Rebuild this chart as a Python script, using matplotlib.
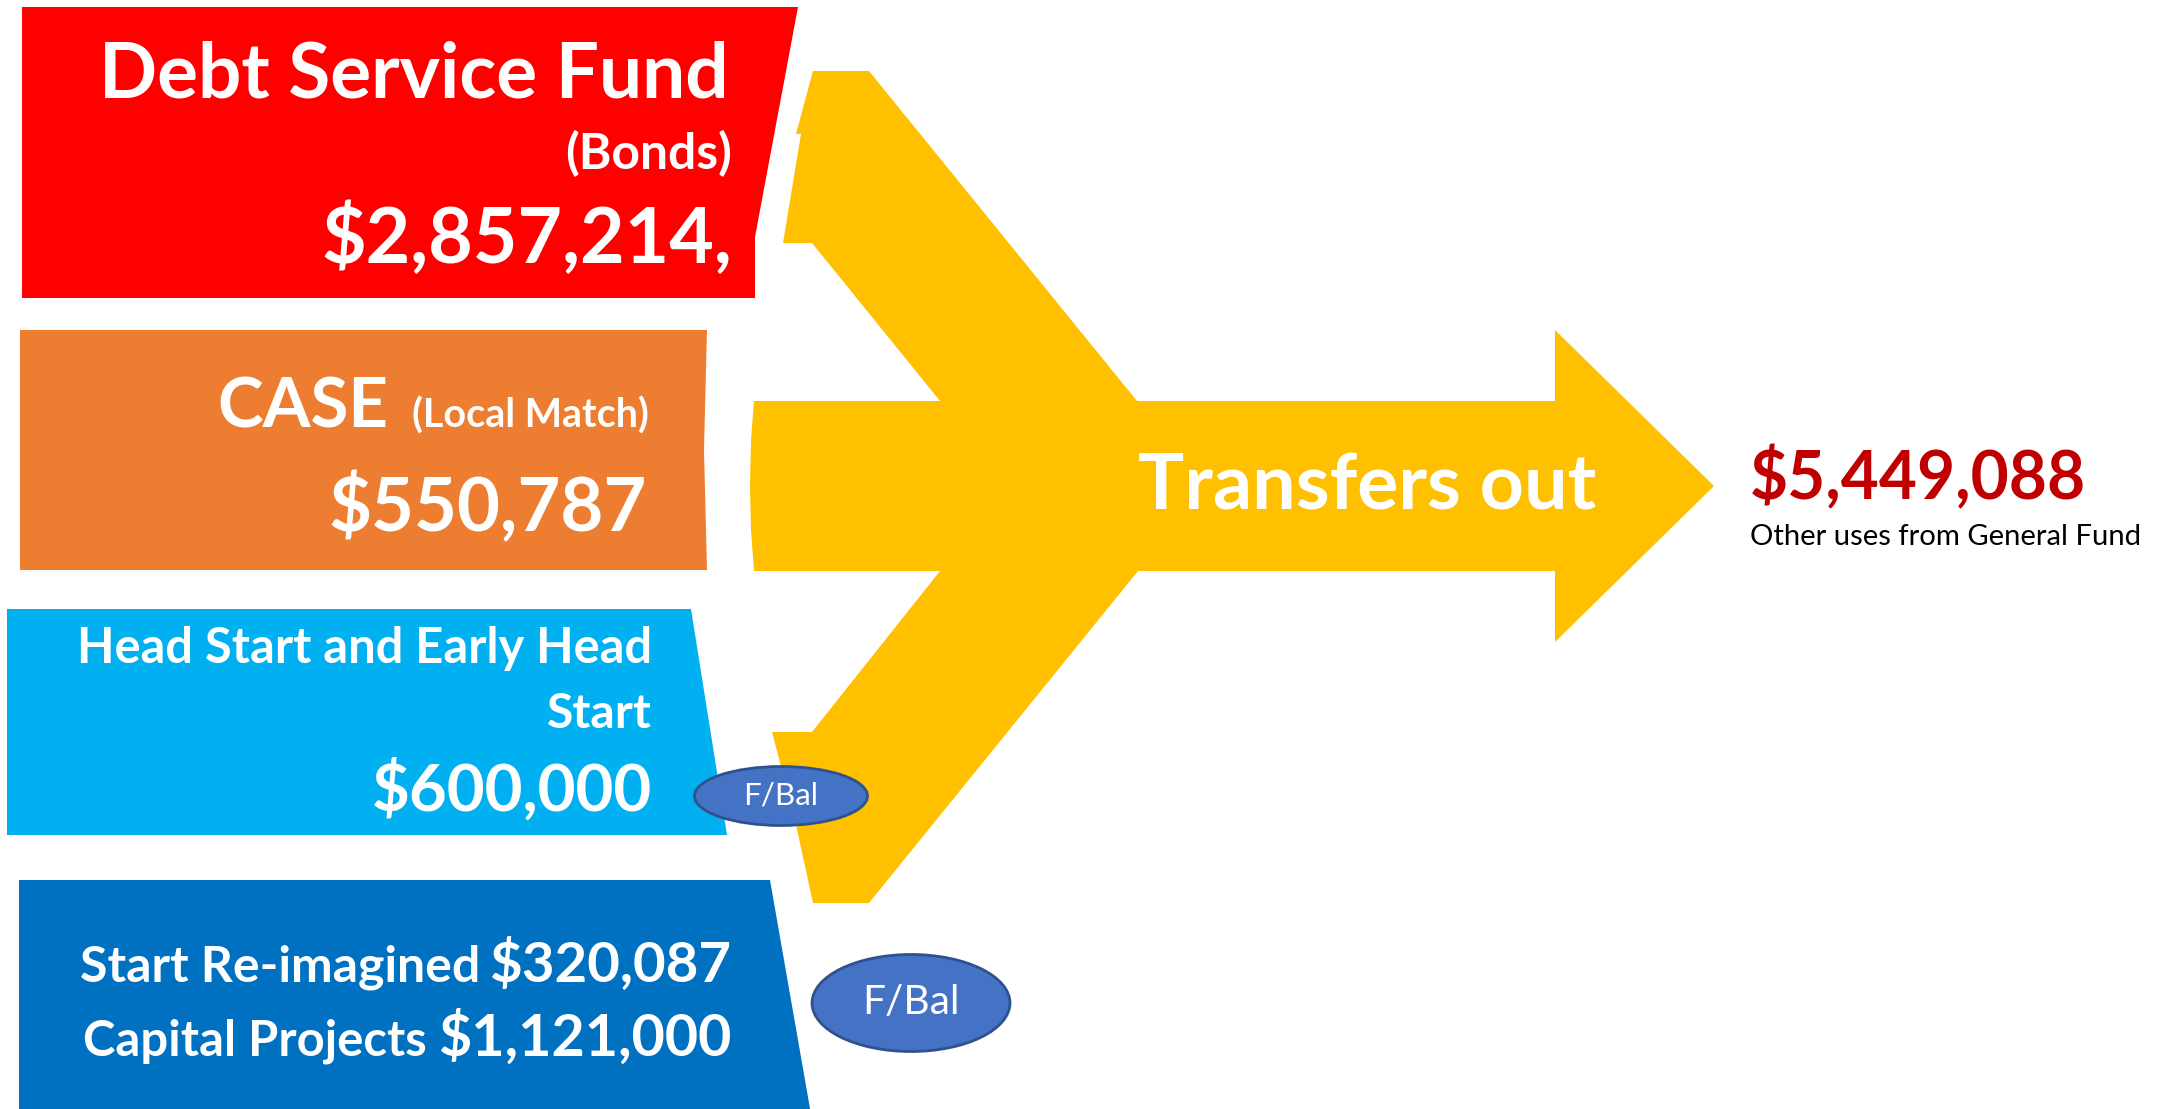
import matplotlib.pyplot as plt
from matplotlib.patches import Polygon, Ellipse

W, H = 2162, 1109

# fund transfers
fund_names = ['Debt Service Fund', 'CASE', 'Head Start and Early Head', 'Start Re-imagined', 'Capital Projects']
fund_notes = ['(Bonds)', '(Local Match)', 'Start', '', '']
fund_amounts = [2857214, 550787, 600000, 320087, 1121000]
total_out = 5449088
total_note = 'Other uses from General Fund'
arrow_label = 'Transfers out'
fbal_label = 'F/Bal'
box_colors = ['#FF0000', '#ED7D31', '#00B0F0', '#0070C0']

FONT = 'Lato'


def money(v):
    return f'${v:,}'


fig = plt.figure(figsize=(W / 100, H / 100), dpi=100)
ax = fig.add_axes([0, 0, 1, 1])
ax.set_xlim(0, W)
ax.set_ylim(H, 0)
ax.axis('off')
renderer = fig.canvas.get_renderer()


def fit_text(x, y, s, width, ha='right', **kw):
    # size the text so that it spans the given width in pixels
    t = ax.text(x, y, s, ha=ha, va='baseline', fontsize=40, family=FONT, **kw)
    bb = t.get_window_extent(renderer=renderer)
    t.set_fontsize(40 * width / bb.width)
    return t


# coloured boxes on the left
boxes = [
    [(22, 7), (798, 7), (755, 237), (755, 298), (22, 298)],
    [(20, 330), (707, 330), (704, 450), (707, 570), (20, 570)],
    [(7, 609), (691, 609), (727, 835), (7, 835)],
    [(19, 880), (770, 880), (812, 1120), (19, 1120)],
]
for pts, c in zip(boxes, box_colors):
    ax.add_patch(Polygon(pts, closed=True, facecolor=c, edgecolor='none'))

# the yellow merging arrow
arrow = [(813, 71), (869, 71), (1137, 401), (1555, 401), (1555, 330), (1714, 486),
         (1555, 642), (1555, 571), (1138, 571), (869, 903), (813, 903), (795, 820),
         (772, 732), (812, 732), (940, 571), (754, 571), (751, 530), (750, 486),
         (751, 440), (754, 401), (940, 401), (812, 243), (783, 243), (801, 134),
         (796, 134)]
ax.add_patch(Polygon(arrow, closed=True, facecolor='#FFC000', edgecolor='none'))

wkw = dict(color='white', fontweight='bold')

fit_text(729, 98, fund_names[0], 630, **wkw)
fit_text(732, 169, fund_notes[0], 167, **wkw)
fit_text(732, 263, money(fund_amounts[0]) + ',', 411, **wkw)

fit_text(388, 428, fund_names[1], 171, **wkw)
fit_text(649, 428, fund_notes[1], 237, **wkw)
fit_text(647, 531, money(fund_amounts[1]), 318, **wkw)

fit_text(652, 663, fund_names[2], 575, **wkw)
fit_text(652, 728, fund_notes[2], 105, **wkw)
fit_text(652, 811, money(fund_amounts[2]), 280, **wkw)

fit_text(480, 981, fund_names[3], 400, **wkw)
fit_text(731, 981, money(fund_amounts[3]), 242, **wkw)
fit_text(427, 1056, fund_names[4], 343, **wkw)
fit_text(731, 1056, money(fund_amounts[4]), 293, **wkw)

fit_text(1596, 509, arrow_label, 458, **wkw)

fit_text(1750, 499, money(total_out), 335, ha='left', color='#C00000', fontweight='bold')
fit_text(1750, 545, total_note, 390, ha='left', color='black')

# fund balance ovals
for (cx, cy, w, h, tw) in [(781, 796, 173, 59, 75), (911, 1003, 198, 97, 97)]:
    ax.add_patch(Ellipse((cx, cy), w, h, facecolor='#4472C4', edgecolor='#2F528F', lw=2))
    t = ax.text(cx, cy, fbal_label, ha='center', va='center', fontsize=20,
                family=FONT, color='white')
    bb = t.get_window_extent(renderer=renderer)
    t.set_fontsize(20 * tw / bb.width)

fig.savefig('out.png', dpi=100)
